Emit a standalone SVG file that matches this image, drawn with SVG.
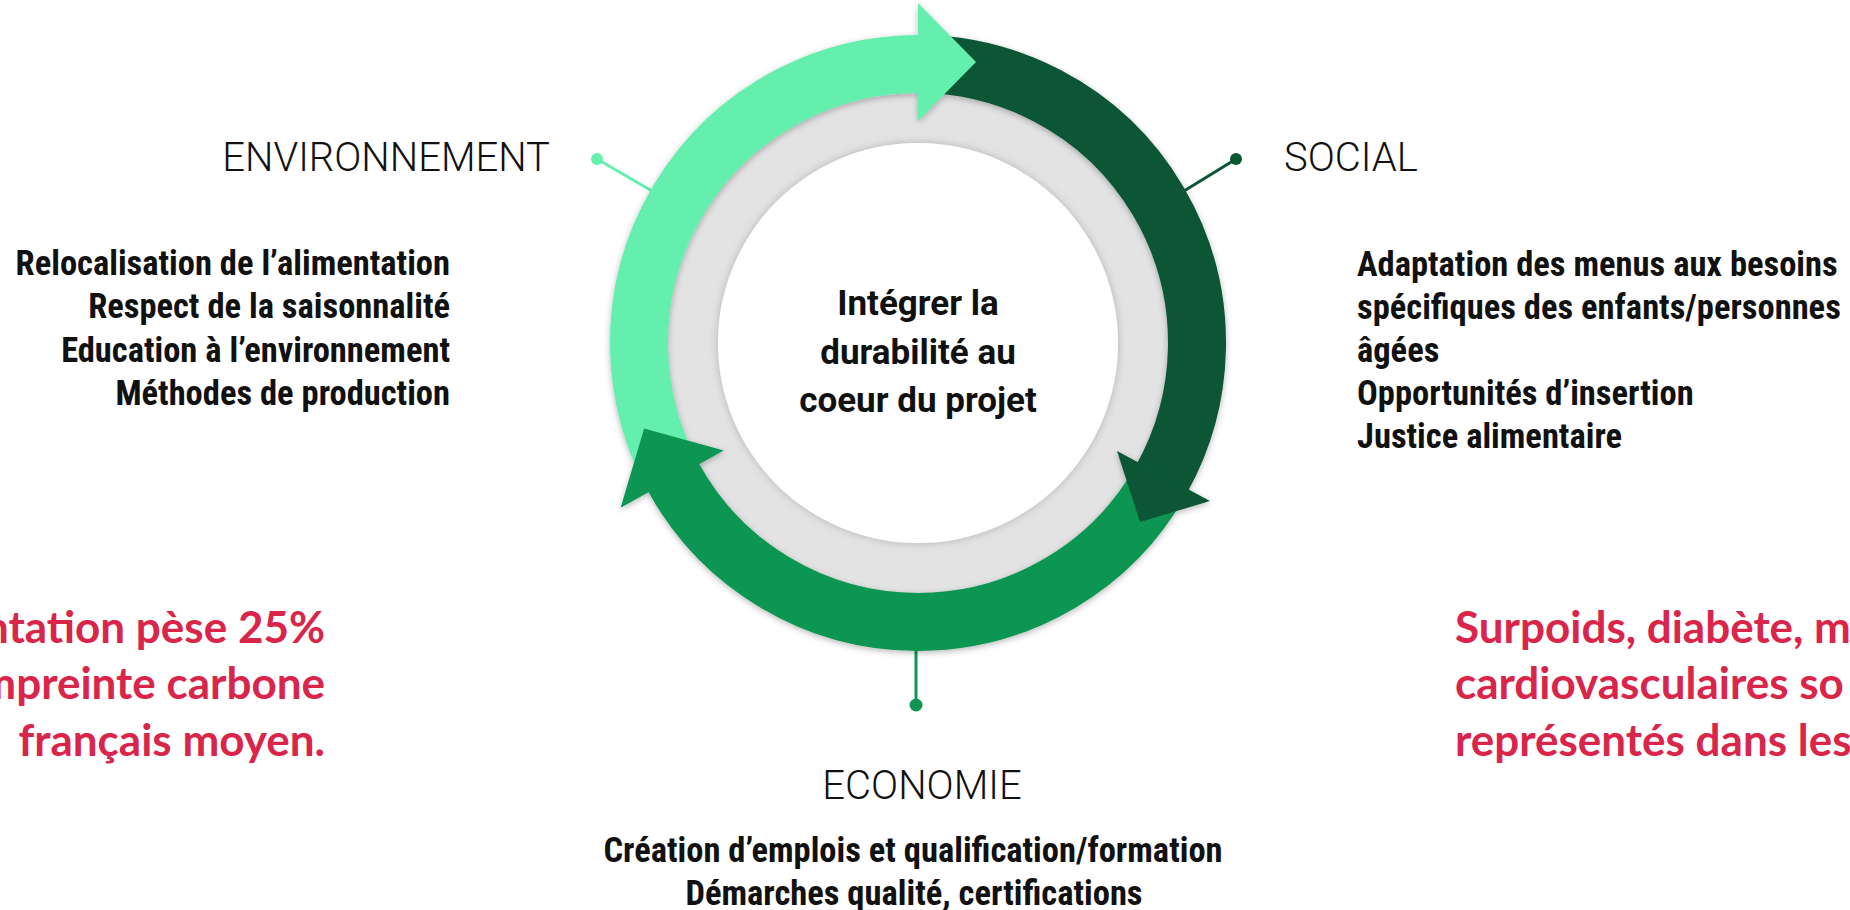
<svg xmlns="http://www.w3.org/2000/svg" width="1850" height="910" viewBox="0 0 1850 910">
  <defs>
    <filter id="shadow" x="-20%" y="-20%" width="140%" height="140%">
      <feDropShadow dx="0" dy="2" stdDeviation="3" flood-color="#000" flood-opacity="0.28"/>
    </filter>
    <filter id="soft" x="-20%" y="-20%" width="140%" height="140%">
      <feDropShadow dx="0" dy="0" stdDeviation="4" flood-color="#000" flood-opacity="0.22"/>
    </filter>
  </defs>
  <style>
    .head { font-family: Roboto, "Liberation Sans", sans-serif; font-weight: 300; font-size: 40px; fill: #111; }
    .item { font-family: Roboto, "Liberation Sans", sans-serif; font-weight: 700; font-size: 34.5px; fill: #111; font-stretch: condensed; }
    .center { font-family: Roboto, "Liberation Sans", sans-serif; font-weight: 700; font-size: 35px; fill: #111; text-anchor: middle; }
    .red { font-family: Lato, "Open Sans", "Liberation Sans", sans-serif; font-weight: 700; font-size: 44px; fill: #D9254A; }
    .body { fill: none; stroke-width: 58; stroke-linecap: butt; }
    .s-light { stroke: #65EFAE; }
    .s-dark { stroke: #0A5734; }
    .s-mid { stroke: #119652; }
    .f-light { fill: #65EFAE; }
    .f-dark { fill: #0A5734; }
    .f-mid { fill: #119652; }
    .conn { stroke-width: 3; fill: none; }
  </style>
  <rect width="1850" height="910" fill="#fff"/>

  <g id="connectors">
    <line class="conn s-light" x1="597" y1="159" x2="652" y2="191"/>
    <circle class="f-light" cx="597" cy="159" r="6"/>
    <line class="conn s-dark" x1="1236" y1="159" x2="1184" y2="191"/>
    <circle class="f-dark" cx="1236" cy="159" r="6"/>
    <line class="conn s-mid" x1="916" y1="650" x2="916" y2="705"/>
    <circle class="f-mid" cx="916" cy="705" r="6.5"/>
  </g>

  <g id="node-center">
    <circle cx="918" cy="343" r="258" fill="#E3E3E3"/>
    <circle cx="918" cy="343" r="200" fill="#fff" filter="url(#soft)"/>
    <g id="cycle" filter="url(#shadow)">
      <path class="body s-light" d="M 673.98 478.26 A 279 279 0 0 1 920.43 64.01"/>
      <path class="body s-dark" d="M 918 64 A 279 279 0 0 1 1162.02 478.26"/>
      <path class="body s-mid" d="M 1163.19 476.13 A 279 279 0 0 1 672.81 476.13"/>
      <polygon class="f-light" points="918,3 918,121 976,62"/>
      <polygon class="f-dark" points="1210,501 1117,451 1140,522"/>
      <polygon class="f-mid" points="620.6,507.8 723.8,450.6 644.1,428.5"/>
    </g>
    <text class="center" x="918" y="315">Intégrer la</text>
    <text class="center" x="918" y="364">durabilité au</text>
    <text class="center" x="918" y="412">coeur du projet</text>
  </g>

  <g id="node-environnement">
    <text class="head" x="550" y="171" text-anchor="end">ENVIRONNEMENT</text>
    <g class="item" text-anchor="end">
      <text x="450" y="275">Relocalisation de l’alimentation</text>
      <text x="450" y="318">Respect de la saisonnalité</text>
      <text x="450" y="362">Education à l’environnement</text>
      <text x="450" y="405">Méthodes de production</text>
    </g>
  </g>

  <g id="node-social">
    <text class="head" x="1284" y="171">SOCIAL</text>
    <g class="item">
      <text x="1357" y="276">Adaptation des menus aux besoins</text>
      <text x="1357" y="319">spécifiques des enfants/personnes</text>
      <text x="1357" y="362">âgées</text>
      <text x="1357" y="405">Opportunités d’insertion</text>
      <text x="1357" y="448">Justice alimentaire</text>
    </g>
  </g>

  <g id="node-economie">
    <text class="head" x="922" y="799" text-anchor="middle">ECONOMIE</text>
    <g class="item" text-anchor="middle">
      <text x="913" y="862">Création d’emplois et qualification/formation</text>
      <text x="914" y="905">Démarches qualité, certifications</text>
    </g>
  </g>

  <g id="note-left" class="red" text-anchor="end">
    <text x="325" y="643">ntation pèse 25%</text>
    <text x="325" y="699">mpreinte carbone</text>
    <text x="325" y="756">français moyen.</text>
  </g>

  <g id="note-right" class="red">
    <text x="1455" y="643">Surpoids, diabète, m</text>
    <text x="1455" y="699">cardiovasculaires so</text>
    <text x="1455" y="756">représentés dans les</text>
  </g>
</svg>
